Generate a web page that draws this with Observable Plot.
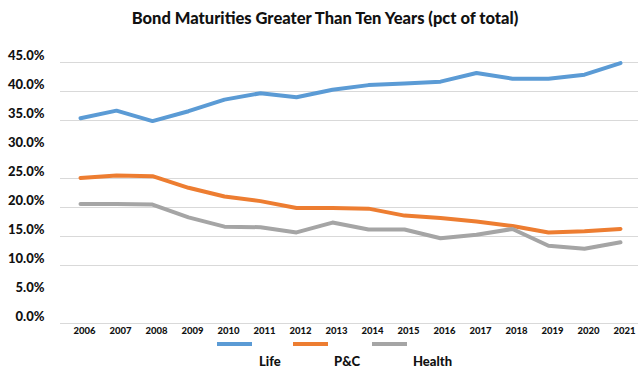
<!DOCTYPE html>
<html>
<head>
<meta charset="utf-8">
<script src="https://cdn.jsdelivr.net/npm/d3@7"></script>
<script src="https://cdn.jsdelivr.net/npm/@observablehq/plot@0.6"></script>
<style>
  html, body { margin: 0; padding: 0; background: #fff; }
  #wrap { position: relative; width: 638px; height: 368px; overflow: hidden; font-family: Lato, "Open Sans", sans-serif; color: #111; }
  #title { position: absolute; left: 0; width: 650px; top: 8px; text-align: center; font-weight: 900; font-size: 16.5px; line-height: 20px; }
  .sw { position: absolute; height: 4px; top: 342px; }
  .lg { position: absolute; top: 355px; font-weight: 900; font-size: 13px; line-height: 13px; }
  #chart { position: absolute; left: 0; top: 0; }
</style>
</head>
<body>
<div id="wrap">
  <div id="chart"></div>
  <div id="title">Bond Maturities Greater Than Ten Years (pct of total)</div>
  <div id="legend"></div>
</div>
<script>
const years = [2006, 2007, 2008, 2009, 2010, 2011, 2012, 2013, 2014, 2015, 2016, 2017, 2018, 2019, 2020, 2021];
const life   = [35.4, 36.7, 34.9, 36.6, 38.6, 39.7, 39.0, 40.3, 41.1, 41.4, 41.7, 43.2, 42.2, 42.2, 42.9, 44.9];
const pc     = [25.1, 25.5, 25.4, 23.4, 21.9, 21.1, 19.9, 19.9, 19.8, 18.6, 18.2, 17.6, 16.8, 15.7, 15.9, 16.3];
const health = [20.6, 20.6, 20.5, 18.3, 16.7, 16.6, 15.7, 17.4, 16.2, 16.2, 14.7, 15.3, 16.3, 13.4, 12.9, 14.0];
const seriesNames = ["Life", "P&C", "Health"];
const seriesColors = ["#5B9BD5", "#ED7D31", "#A5A5A5"];
const yTicks = [0, 5, 10, 15, 20, 25, 30, 35, 40, 45];
const gridValues = [10, 15, 20, 25, 35, 40, 45];

const allSeries = [life, pc, health];
const rows = [];
allSeries.forEach((vals, i) => vals.forEach((v, j) => rows.push({year: String(years[j]), value: v, series: seriesNames[i]})));

const chart = Plot.plot({
  width: 638,
  height: 368,
  marginLeft: 62,
  marginRight: 0,
  marginTop: 62,
  marginBottom: 45,
  style: {fontFamily: "Lato, 'Open Sans', sans-serif", background: "transparent", overflow: "visible"},
  x: {type: "point", domain: years.map(String), padding: 0.5},
  y: {domain: [0, 45]},
  color: {domain: seriesNames, range: seriesColors},
  marks: [
    Plot.ruleY(gridValues, {stroke: "#d9d9d9", strokeWidth: 1.2, insetLeft: -2}),
    Plot.ruleY([0], {stroke: "#d9d9d9", strokeWidth: 1.2, insetLeft: -2}),
    Plot.axisY(yTicks, {tickSize: 0, tickPadding: 18, dy: -7, tickFormat: d => d.toFixed(1) + "%", fontSize: 13, fontWeight: 900, fill: "#111", label: null}),
    Plot.axisX({tickSize: 0, tickPadding: 4, dx: 4, fontSize: 9.5, fontWeight: 900, fill: "#111", label: null}),
    Plot.line(rows, {x: "year", y: "value", z: "series", stroke: "series", strokeWidth: 4, curve: "linear"})
  ]
});
document.getElementById("chart").appendChild(chart);

// legend
const legend = document.getElementById("legend");
const swatchX = [217, 293, 372];
const labelX = [259, 334, 413];
seriesNames.forEach((name, i) => {
  const s = document.createElement("div");
  s.className = "sw";
  s.style.left = swatchX[i] + "px";
  s.style.width = "35px";
  s.style.background = seriesColors[i];
  legend.appendChild(s);
  const t = document.createElement("div");
  t.className = "lg";
  t.style.left = labelX[i] + "px";
  t.textContent = name;
  legend.appendChild(t);
});
</script>
</body>
</html>
